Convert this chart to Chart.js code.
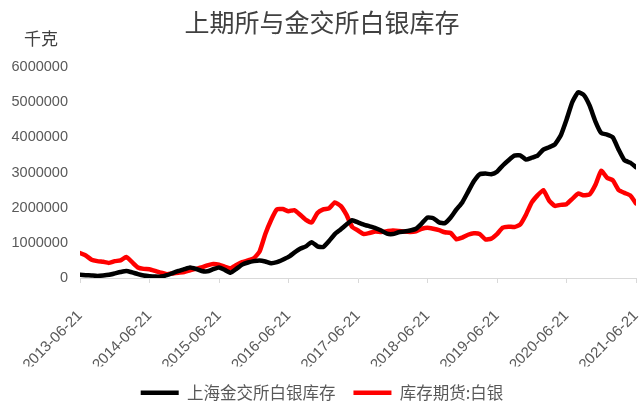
<!DOCTYPE html>
<html>
<head>
<meta charset="utf-8">
<script src="https://cdn.jsdelivr.net/npm/chart.js@4.4.0/dist/chart.umd.min.js"></script>
<style>
  html, body { margin: 0; padding: 0; background: #fff; }
  #wrap { width: 640px; height: 405px; }
</style>
</head>
<body>
<div id="wrap"><canvas id="c"></canvas></div>
<script>
// month index from 2013-06-21 (0 .. 96), one value per month
const tickLabels = ['2013-06-21', '2014-06-21', '2015-06-21', '2016-06-21', '2017-06-21',
                    '2018-06-21', '2019-06-21', '2020-06-21', '2021-06-21'];

// 上海金交所白银库存 (千克)
const sgeStock = [
  90, 80, 70, 60, 70, 90, 130, 170, 200, 160, 110, 70,
  50, 40, 40, 80, 140, 200, 250, 300, 260, 200, 190, 250,
  300, 230, 150, 260, 380, 440, 480, 500, 470, 420, 450, 520,
  600, 720, 830, 900, 1020, 900, 880, 1050, 1250, 1380, 1520, 1640,
  1580, 1520, 1470, 1420, 1350, 1260, 1250, 1300, 1320, 1350, 1400, 1550,
  1720, 1700, 1580, 1560, 1720, 1950, 2150, 2450, 2750, 2950, 2970, 2950,
  3020, 3200, 3350, 3480, 3490, 3370, 3420, 3480, 3650, 3720, 3800, 4050,
  4500, 5000, 5280, 5200, 4900, 4450, 4120, 4080, 4000, 3650, 3350, 3280,
  3150
].map(v => v * 1000);

// 库存期货:白银 (千克)
const shfeStock = [
  710, 640, 520, 480, 460, 430, 480, 500, 600, 450, 300, 260,
  250, 200, 150, 110, 130, 150, 170, 220, 260, 300, 360, 400,
  380, 320, 280, 370, 450, 500, 560, 750, 1250, 1650, 1950, 1960,
  1900, 1930, 1800, 1650, 1580, 1850, 1950, 1980, 2150, 2050, 1800, 1450,
  1350, 1250, 1280, 1320, 1310, 1330, 1350, 1340, 1320, 1310, 1330, 1400,
  1430, 1400, 1360, 1300, 1280, 1100, 1150, 1230, 1270, 1250, 1100, 1120,
  1250, 1430, 1460, 1450, 1520, 1800, 2150, 2350, 2500, 2200, 2050, 2080,
  2100, 2250, 2400, 2350, 2380, 2650, 3050, 2850, 2780, 2500, 2420, 2350,
  2120
].map(v => v * 1000);

const toPoints = arr => arr.map((v, i) => ({ x: i, y: v }));

// 单位 "千克" 画在 y 轴上方
const unitLabel = {
  id: 'unitLabel',
  afterDraw(chart) {
    const ctx = chart.ctx;
    ctx.save();
    ctx.font = '17px "Noto Sans CJK SC"';
    ctx.fillStyle = '#404040';
    ctx.textAlign = 'left';
    ctx.textBaseline = 'middle';
    ctx.fillText('千克', 24, 39);
    ctx.restore();
  }
};

new Chart(document.getElementById('c'), {
  type: 'line',
  data: {
    datasets: [{
      label: '上海金交所白银库存',
      data: toPoints(sgeStock),
      borderColor: '#000000',
      backgroundColor: '#000000',
      borderWidth: 4.5,
      borderCapStyle: 'round',
      borderJoinStyle: 'round',
      pointRadius: 0,
      tension: 0.15
    }, {
      label: '库存期货:白银',
      data: toPoints(shfeStock),
      borderColor: '#ff0000',
      backgroundColor: '#ff0000',
      borderWidth: 4.5,
      borderCapStyle: 'round',
      borderJoinStyle: 'round',
      pointRadius: 0,
      tension: 0.15
    }]
  },
  options: {
    responsive: true,
    maintainAspectRatio: false,
    animation: false,
    layout: { padding: { left: 8, right: 4, top: 0, bottom: -6 } },
    scales: {
      x: {
        type: 'linear',
        min: 0,
        max: 96,
        afterBuildTicks: axis => {
          axis.ticks = tickLabels.map((_, i) => ({ value: i * 12 }));
        },
        afterFit: axis => {
          axis.height = 88.5;
          axis.paddingLeft = 0;
          axis.paddingRight = 0;
        },
        ticks: {
          autoSkip: false,
          maxRotation: 45,
          minRotation: 45,
          color: '#595959',
          font: { family: 'Liberation Sans', size: 15 },
          padding: 24,
          callback: (value) => tickLabels[Math.round(value / 12)]
        },
        grid: { drawOnChartArea: false, color: '#d9d9d9', tickLength: 5 },
        border: { color: '#d9d9d9', width: 1 }
      },
      y: {
        min: 0,
        max: 6000000,
        afterFit: axis => { axis.width = 72; },
        ticks: {
          stepSize: 1000000,
          color: '#595959',
          font: { family: 'Liberation Sans', size: 14.5 },
          padding: 4,
          callback: v => String(v)
        },
        grid: { display: false },
        border: { display: false }
      }
    },
    plugins: {
      title: {
        display: true,
        text: '上期所与金交所白银库存',
        color: '#404040',
        font: { family: 'Noto Sans CJK SC', size: 25, weight: 'normal' },
        padding: { top: 7, bottom: 30 }
      },
      legend: {
        position: 'bottom',
        labels: {
          usePointStyle: true,
          pointStyle: 'line',
          pointStyleWidth: 38,
          color: '#595959',
          font: { family: 'Noto Sans CJK SC', size: 16.5 },
          padding: 18
        }
      },
      tooltip: { enabled: false }
    }
  },
  plugins: [unitLabel]
});
</script>
</body>
</html>
